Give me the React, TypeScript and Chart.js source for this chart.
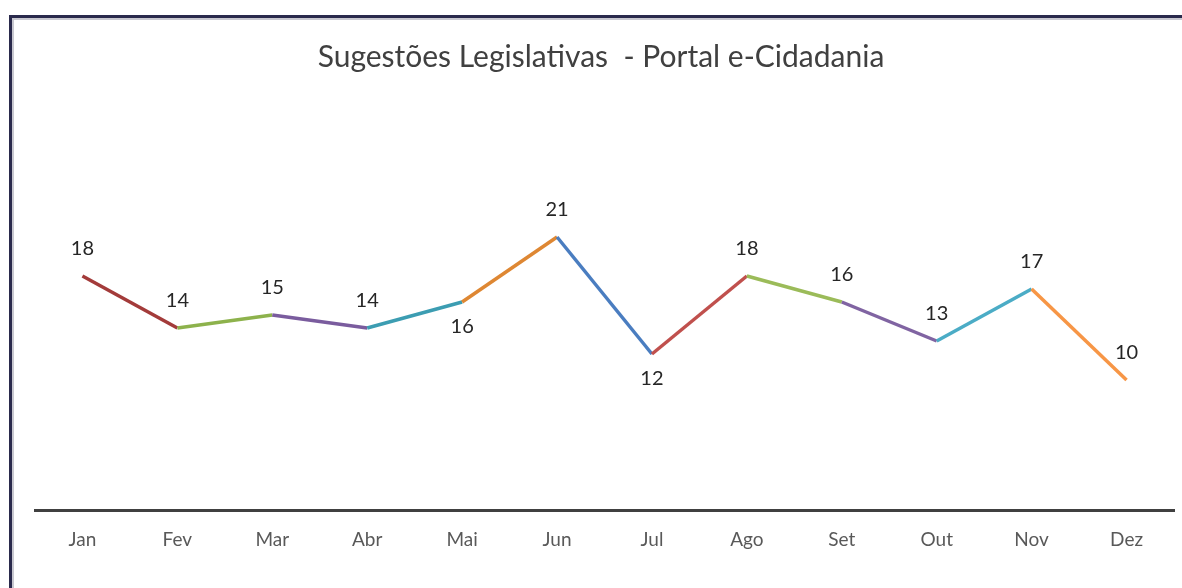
import React, { useEffect, useRef } from "react";
import { Chart, registerables } from "chart.js";

Chart.register(...registerables);

const TITLE = "Sugestões Legislativas  - Portal e-Cidadania";
const MONTHS = ["Jan", "Fev", "Mar", "Abr", "Mai", "Jun", "Jul", "Ago", "Set", "Out", "Nov", "Dez"];
const VALUES = [18, 14, 15, 14, 16, 21, 12, 18, 16, 13, 17, 10];
const LABEL_SIDE = ["top", "top", "top", "top", "bottom", "top", "bottom", "top", "top", "top", "top", "top"];
const SEGMENT_COLORS = [
  "#A33B3A",
  "#8DB24C",
  "#7A5C9E",
  "#3C9DB2",
  "#DE8733",
  "#4A7DC0",
  "#C0504D",
  "#9BBB59",
  "#8064A2",
  "#4BACC6",
  "#F79646",
];

const framePlugin = {
  id: "framePlugin",
  beforeDraw(chart: any) {
    const ctx = chart.ctx;
    const w = chart.width;
    const h = chart.height;
    ctx.save();
    ctx.fillStyle = "#ffffff";
    ctx.fillRect(0, 0, w, h);
    ctx.strokeStyle = "#c8c8d0";
    ctx.lineWidth = 2;
    ctx.beginPath();
    ctx.moveTo(13, h);
    ctx.lineTo(13, 19);
    ctx.lineTo(w, 19);
    ctx.stroke();
    ctx.strokeStyle = "#2a2a4c";
    ctx.lineWidth = 3;
    ctx.beginPath();
    ctx.moveTo(10.5, h);
    ctx.lineTo(10.5, 16.5);
    ctx.lineTo(w, 16.5);
    ctx.stroke();
    ctx.fillStyle = "#404040";
    ctx.font = "30px Lato, 'Open Sans', sans-serif";
    ctx.textAlign = "center";
    ctx.textBaseline = "middle";
    ctx.fillText(TITLE, 601, 57);
    ctx.restore();
  },
};

const labelPlugin = {
  id: "labelPlugin",
  afterDatasetsDraw(chart: any) {
    const ctx = chart.ctx;
    const meta = chart.getDatasetMeta(0);
    ctx.save();
    ctx.fillStyle = "#262626";
    ctx.font = "20px Lato, 'Open Sans', sans-serif";
    ctx.textAlign = "center";
    ctx.textBaseline = "middle";
    meta.data.forEach((pt: any, i: number) => {
      const dy = LABEL_SIDE[i] === "top" ? -27 : 25;
      ctx.fillText(String(VALUES[i]), pt.x, pt.y + dy);
    });
    ctx.restore();
  },
};

export default function App() {
  const ref = useRef<HTMLCanvasElement | null>(null);
  useEffect(() => {
    if (!ref.current) return;
    const chart = new Chart(ref.current, {
      type: "line",
      data: {
        labels: MONTHS,
        datasets: [
          {
            data: VALUES,
            borderWidth: 3.5,
            pointRadius: 0,
            tension: 0,
            borderColor: SEGMENT_COLORS[0],
            segment: {
              borderColor: (c: any) => SEGMENT_COLORS[c.p0DataIndex],
            },
          },
        ],
      },
      options: {
        animation: false,
        responsive: true,
        maintainAspectRatio: false,
        layout: { padding: { left: 35, right: 8, top: 185, bottom: 0 } },
        plugins: {
          legend: { display: false },
          title: { display: false },
          tooltip: { enabled: false },
        },
        scales: {
          x: {
            offset: true,
            grid: { display: false, drawTicks: false },
            border: { display: true, color: "#404040", width: 3 },
            ticks: {
              padding: 18,
              color: "#595959",
              font: { family: "Lato, 'Open Sans', sans-serif", size: 19 },
              maxRotation: 0,
            },
            afterFit: (s: any) => {
              s.height = 78;
            },
          },
          y: {
            display: false,
            min: 0,
            max: 25,
          },
        },
      },
      plugins: [framePlugin, labelPlugin],
    });
    return () => chart.destroy();
  }, []);
  return (
    <div style={{ position: "fixed", left: 0, top: 0, width: 1182, height: 588, background: "#fff" }}>
      <canvas ref={ref} />
    </div>
  );
}
